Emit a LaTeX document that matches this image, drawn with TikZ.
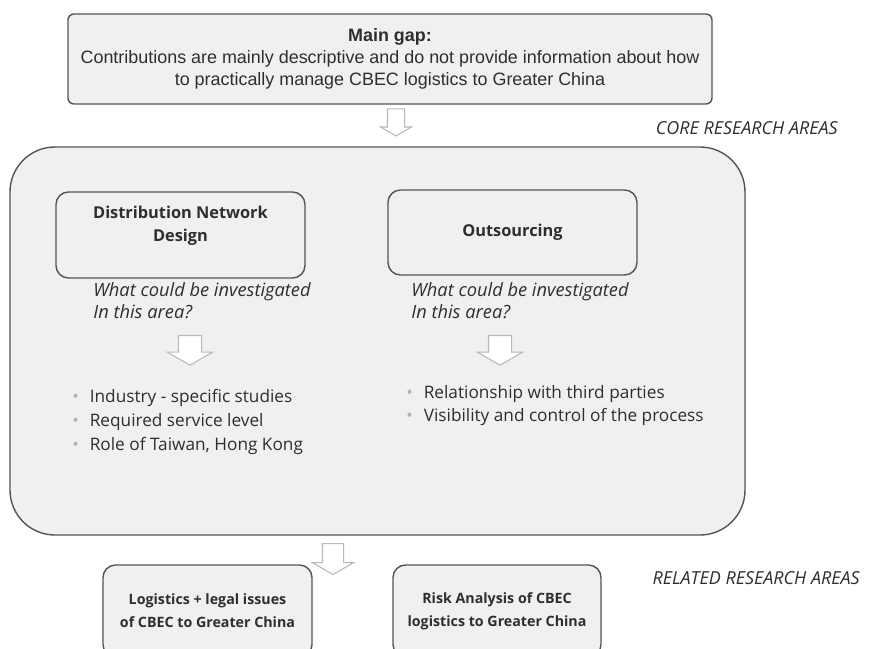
\documentclass[tikz,border=0pt]{standalone}
\usepackage{fontspec}
\setmainfont{Open Sans}
\newfontfamily\gapfont{Liberation Sans}
\usetikzlibrary{shapes.arrows}
\definecolor{boxfill}{HTML}{F0F0F0}
\definecolor{boxline}{HTML}{555555}
\definecolor{txtgray}{HTML}{2E2E2E}
\tikzset{
  areabox/.style  = {draw=boxline,fill=boxfill,rounded corners=2.5mm,line width=0.8pt,
                     align=center,text=txtgray,font=\bfseries\fontsize{9.3}{13}\selectfont},
  downarr/.style  = {single arrow,draw=gray!55,fill=white,rotate=-90,line width=0.6pt,
                     single arrow tip angle=120},
  question/.style = {anchor=west,inner sep=0pt,align=left,text=txtgray,
                     font=\itshape\fontsize{10.4}{12.5}\selectfont},
  itemlist/.style = {anchor=west,inner sep=0pt,align=left,text=txtgray,
                     font=\fontsize{9.8}{13.6}\selectfont},
  sidelabel/.style= {anchor=east,inner sep=0pt,text=txtgray,
                     font=\itshape\fontsize{10.2}{12}\selectfont}
}
\newcommand{\itm}{\textcolor{gray!60}{\textbullet}\hspace{2.2mm}}

\begin{document}
\begin{tikzpicture}[x=0.2mm,y=-0.2mm]
  \useasboundingbox (0,0) rectangle (874,649);
  % main gap
  \node[areabox,rounded corners=1.2mm,minimum width=12.88cm,minimum height=1.8cm,
        font=\gapfont\fontsize{10.2}{12.4}\selectfont] (gap) at (390,59)
    {\textbf{Main gap:}\\Contributions are mainly descriptive and do not provide information about how\\
     to practically manage CBEC logistics to Greater China};
  \node[downarr,minimum height=0.54cm,inner sep=0.16cm,single arrow head extend=0.14cm] (arrgap) at (396,120) {};
  \node[sidelabel] (corelbl) at (838,128) {CORE RESEARCH AREAS};
  % core research areas
  \node[areabox,rounded corners=9mm,minimum width=14.7cm,minimum height=7.76cm] (core) at (377.5,341) {};
  \node[areabox,minimum width=4.98cm,minimum height=1.72cm] (dnd) at (180.5,235)
    {Distribution Network\\Design\\[-4.6pt]\strut};
  \node[areabox,minimum width=4.98cm,minimum height=1.7cm] (outs) at (512.5,232.5) {Outsourcing};
  \node[question] (qdnd) at (93,301) {What could be investigated\\In this area?};
  \node[question] (qouts) at (411,301) {What could be investigated\\In this area?};
  \node[downarr,minimum height=0.58cm,inner sep=0.22cm,single arrow head extend=0.22cm] (arrdnd) at (190,347) {};
  \node[downarr,minimum height=0.58cm,inner sep=0.22cm,single arrow head extend=0.22cm] (arrouts) at (500,347) {};
  \node[itemlist] (listdnd) at (72,422)
    {\itm Industry - specific studies\\\itm Required service level\\\itm Role of Taiwan, Hong Kong};
  \node[itemlist] (listouts) at (406,405.5)
    {\itm Relationship with third parties\\\itm Visibility and control of the process};
  % related research areas
  \node[downarr,minimum height=0.62cm,inner sep=0.2cm,single arrow head extend=0.2cm] (arrcore) at (333,556) {};
  \node[sidelabel] (rellbl) at (860,578) {RELATED RESEARCH AREAS};
  \node[areabox,minimum width=4.18cm,minimum height=1.84cm,font=\bfseries\fontsize{8.1}{13}\selectfont] (legal) at (207.5,611)
    {Logistics + legal issues\\of CBEC to Greater China};
  \node[areabox,minimum width=4.16cm,minimum height=1.84cm,font=\bfseries\fontsize{8.1}{13}\selectfont] (risk) at (497,611)
    {Risk Analysis of CBEC\\logistics to Greater China};
\end{tikzpicture}
\end{document}
